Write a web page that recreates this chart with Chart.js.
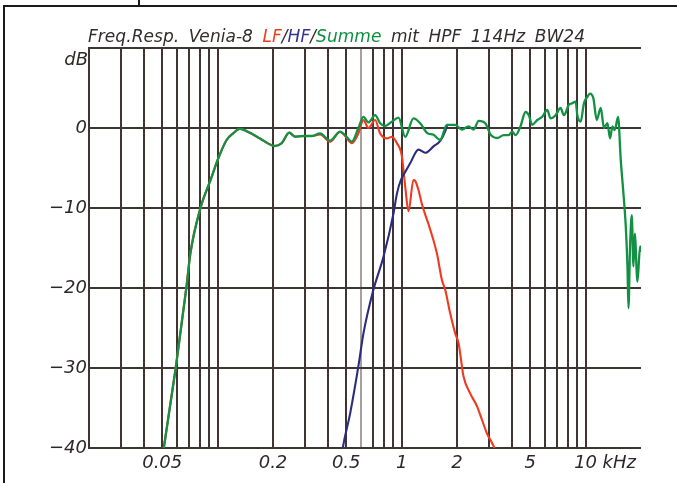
<!DOCTYPE html>
<html><head><meta charset="utf-8">
<script src="https://cdn.jsdelivr.net/npm/chart.js@4.4.1/dist/chart.umd.min.js"></script>
<style>
html,body{margin:0;padding:0;background:#fff;}
#wrap{position:relative;width:677px;height:483px;overflow:hidden;background:#fff;}
#c{position:absolute;left:0;top:0;}
.ln{position:absolute;background:#1a1a1a;}
#title{position:absolute;left:88px;top:28px;font-family:"DejaVu Sans",sans-serif;font-style:oblique;font-size:17px;line-height:17px;white-space:pre;color:#332c2c;word-spacing:4px;}
</style></head><body>
<div id="wrap">
<canvas id="c" width="677" height="483"></canvas>
<div class="ln" style="left:4px;top:5px;width:673px;height:2px"></div>
<div class="ln" style="left:3px;top:5px;width:2px;height:478px"></div>
<div class="ln" style="left:138px;top:0;width:2px;height:6px"></div>
<div id="title"><span>Freq.Resp. Venia-8 </span><span style="color:#e8401c">LF</span><span>/</span><span style="color:#33338a">HF</span><span>/</span><span style="color:#0e8f3f">Summe</span><span> mit HPF 114Hz BW24</span></div>
</div>
<script>
// ---- data (frequency in Hz, level in dB) ----
const sumFreq = [47, 51, 59.2, 67.6, 71.1, 80.7, 91.5, 101.6, 111.9, 121.5, 132.1, 149.7, 169.8, 204.9, 222.9, 245.2, 263.4, 292.2, 324.8, 360.3, 408.4, 463, 493, 536.2, 582.5, 619.9, 660, 718.1, 764.5, 813.9, 885.3, 961.6, 1046, 1160, 1262, 1373, 1491, 1621, 1764, 1958, 2129, 2313, 2462, 2623, 2852, 3038, 3305, 3589, 3822, 3990, 4159, 4425, 4713, 4913, 5126, 5459, 5811, 6187, 6449, 6868, 7312, 7621, 8114, 8467, 8828, 9015, 9398, 9797, 10225, 10563, 11024, 11489, 12083, 12592, 13143, 13576, 13992, 14401, 15010, 15523, 16057, 16530, 16884, 17095, 17443, 17817, 18200, 18500, 19134, 19770, 20000];
const sumDb = [-45, -40, -30, -20, -15.7, -10, -6.5, -3.6, -1.5, -0.67, -0.1, -0.6, -1.3, -2.25, -1.9, -0.58, -1.08, -1.0, -1.0, -0.67, -1.58, -0.46, -0.88, -1.7, 0, 1.4, 0.7, 1.6, 0.6, 0.25, 0.8, 1.3, -1.1, 1.2, 0.6, -0.6, -0.85, -1.5, 0.4, 0.4, -0.2, 0.2, -0.2, 0.9, 0.6, -0.8, -1.25, -0.9, -0.9, -0.45, -0.9, 0.2, 2.0, 1.6, 0.4, 1.0, 1.4, 2.25, 1.2, 1.6, 2.5, 1.6, 2.9, 3.1, 3.3, 1.6, 0.8, 3.1, 3.9, 4.3, 3.7, 1.0, 2.5, 0, 0.6, -1.3, 0.2, -0.25, 1.4, -4.0, -8.2, -12.3, -17.3, -22.5, -14.8, -10.9, -17.3, -13.2, -19.2, -14.8, -15.5];

const lfFreq = [47, 51, 59.2, 67.6, 71.1, 80.7, 91.5, 101.6, 111.9, 121.5, 132.1, 149.7, 169.8, 204.9, 222.9, 245.2, 263.4, 292.2, 324.8, 360.3, 408.4, 463, 493, 536.2, 582.4, 620, 660, 718, 764, 831, 885, 943, 1003, 1046, 1090, 1160, 1185, 1235, 1289, 1431, 1556, 1656, 1727, 1838, 1957, 2040, 2172, 2362, 2570, 2736, 2912, 3192, 3300];
const lfDb = [-45, -40, -30, -20, -15.7, -10, -6.5, -3.6, -1.5, -0.67, -0.1, -0.6, -1.3, -2.25, -1.9, -0.58, -1.08, -1.0, -1.0, -0.8, -1.7, -0.5, -1.0, -1.9, -0.67, 1.0, 0, 1.0, -0.67, -1.3, -1.1, -1.9, -3.5, -7.3, -10.4, -6.5, -6.6, -7.75, -9.5, -12.7, -15.7, -19.0, -20.25, -23.2, -25.7, -26.9, -31.1, -33.2, -34.8, -36.5, -38.2, -40, -41.2];

const hfFreq = [470, 479, 525, 582, 620, 703, 797, 903, 943, 991, 1046, 1113, 1235, 1344, 1491, 1621, 1727, 1764];
const hfDb = [-41.5, -40, -35.7, -29.8, -25.7, -20.2, -16.1, -10.7, -8.2, -6.5, -5.5, -4.4, -2.7, -3.1, -2.3, -1.6, -0.4, 0.3];

const gridFreqs = [20,30,40,50,60,70,80,90,100,200,300,400,500,600,700,800,900,1000,2000,3000,4000,5000,6000,7000,8000,9000,10000];
const xTickValues = [50, 200, 500, 1000, 2000, 5000, 10000];
const xTickLabels = ['0.05', '0.2', '0.5', '1', '2', '5', '10'];
const yTickValues = [10, 0, -10, -20, -30, -40];

// ---- fit title width ----
(function(){
  const t = document.getElementById('title');
  const w = t.getBoundingClientRect().width;
  const n = t.textContent.length;
  t.style.letterSpacing = ((497 - w) / n) + 'px';
})();

const zip = (xs, ys) => xs.map((x, i) => ({x: x, y: ys[i]}));
const FAM = '"DejaVu Sans", sans-serif';
const FONT = {family: FAM, style: 'oblique', size: 18};
const TXT = '#2e2828';
const GRID = '#3e3532';

const extraText = {
  id: 'extraText',
  afterDraw(chart) {
    const ctx = chart.ctx, xs = chart.scales.x, ys = chart.scales.y;
    ctx.save();
    ctx.font = 'oblique 18px ' + FAM;
    ctx.fillStyle = TXT;
    ctx.textAlign = 'right';
    ctx.textBaseline = 'alphabetic';
    ctx.fillText('dB', xs.left - 1, ys.top + 17);
    ctx.textAlign = 'left';
    ctx.textBaseline = 'middle';
    ctx.fillText('kHz', xs.getPixelForValue(10000) + 17, ys.bottom + 15);
    ctx.restore();
  }
};

new Chart(document.getElementById('c'), {
  type: 'line',
  data: {
    datasets: [
      {label: 'Summe', data: zip(sumFreq, sumDb), borderColor: '#129142', borderWidth: 2.3, order: 0},
      {label: 'HF', data: zip(hfFreq, hfDb), borderColor: '#2c2c7e', borderWidth: 2.1, order: 1},
      {label: 'LF', data: zip(lfFreq, lfDb), borderColor: '#f03a20', borderWidth: 2.1, order: 2}
    ].map(d => Object.assign(d, {pointRadius: 0, fill: false, cubicInterpolationMode: 'monotone', clip: 0}))
  },
  options: {
    responsive: false,
    animation: false,
    devicePixelRatio: 1,
    layout: {padding: {left: 0, top: 48, right: 36, bottom: 0}},
    plugins: {legend: {display: false}, tooltip: {enabled: false}, title: {display: false}},
    scales: {
      x: {
        type: 'logarithmic', min: 20, max: 20000,
        afterBuildTicks: s => { s.ticks = gridFreqs.map(v => ({value: v})); },
        afterFit: s => { s.height = 35; },
        border: {display: false},
        grid: {
          drawTicks: false, lineWidth: 2,
          color: c => (c.tick && c.tick.value === 600) ? '#a8a09d' : GRID
        },
        ticks: {
          autoSkip: false, maxRotation: 0, minRotation: 0, padding: 5,
          font: FONT, color: TXT,
          callback: v => { const i = xTickValues.indexOf(v); return i >= 0 ? xTickLabels[i] : ''; }
        }
      },
      y: {
        min: -40, max: 10,
        afterBuildTicks: s => { s.ticks = yTickValues.map(v => ({value: v})); },
        afterFit: s => { s.width = 89; },
        border: {display: true, color: GRID, width: 2},
        grid: {drawTicks: false, lineWidth: 2, color: GRID},
        ticks: {
          padding: 2, font: FONT, color: TXT,
          callback: v => v === 10 ? '' : (v < 0 ? '\u2212' + Math.abs(v) : String(v))
        }
      }
    }
  },
  plugins: [extraText]
});
</script>
</body></html>
